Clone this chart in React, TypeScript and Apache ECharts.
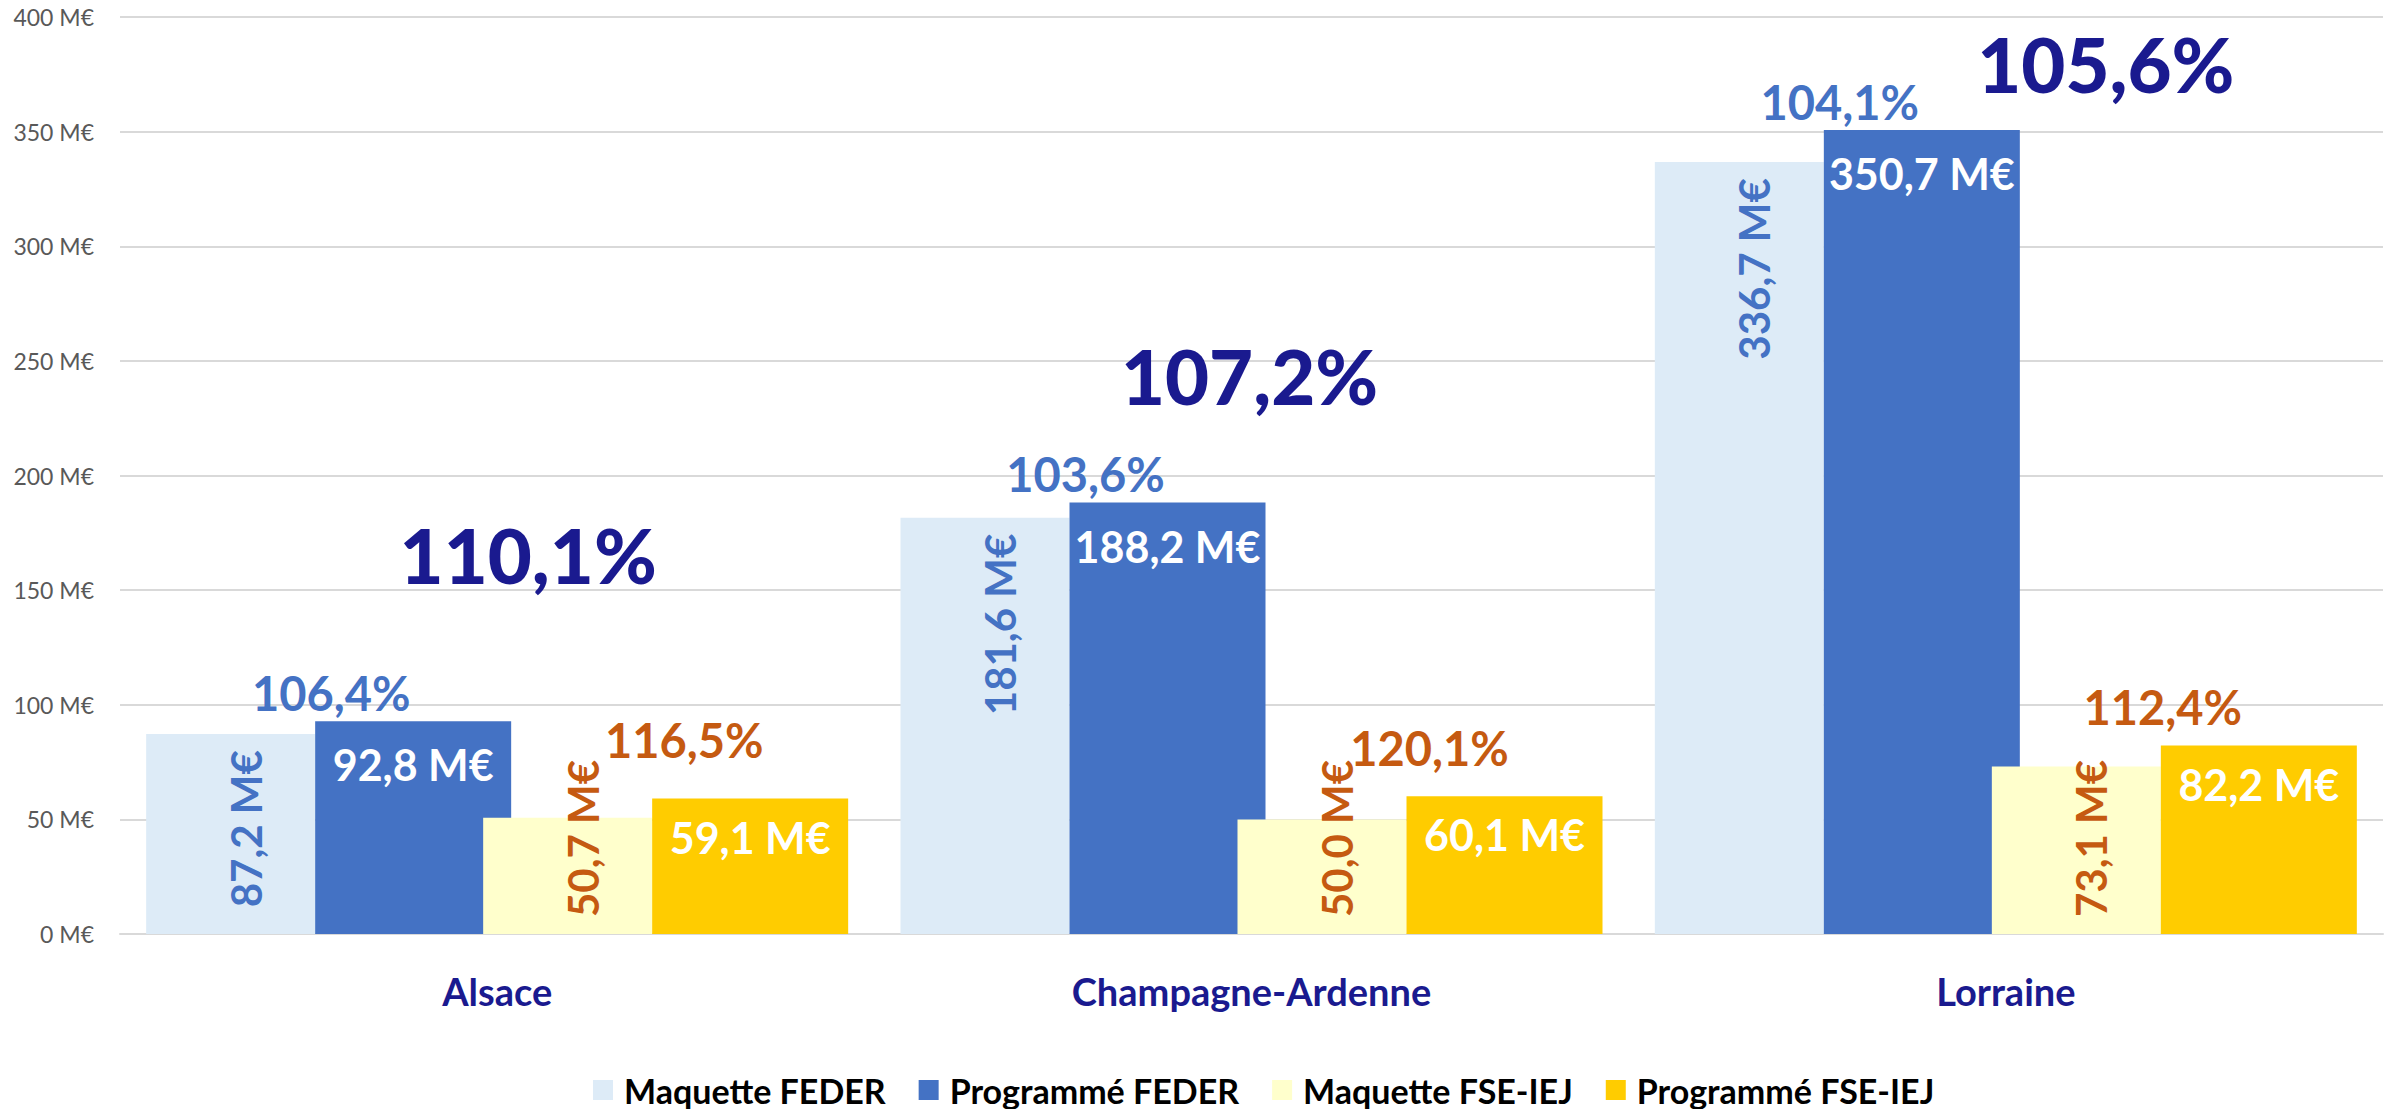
import React, { useEffect, useRef } from "react";
import * as echarts from "echarts";

const categories = ["Alsace", "Champagne-Ardenne", "Lorraine"];
const maquetteFeder = [87.2, 181.6, 336.7];
const programmeFeder = [92.8, 188.2, 350.7];
const maquetteFse = [50.7, 50.0, 73.1];
const programmeFse = [59.1, 60.1, 82.2];
const tauxFeder = ["106,4%", "103,6%", "104,1%"];
const tauxFse = ["116,5%", "120,1%", "112,4%"];
const tauxTotal = ["110,1%", "107,2%", "105,6%"];
const legendNames = ["Maquette FEDER", "Programmé FEDER", "Maquette FSE-IEJ", "Programmé FSE-IEJ"];

// annotation placement (value-axis anchor and pixel offsets)
const totalLabelAnchor = [165.6, 243.7, 379.7];
const totalLabelDx = [31, -2, 100];
const fseRateOffset = [[-66, -30], [-75, -20], [-96, -10]];

const NAVY = "#1A1A8F";
const BLUE = "#4472C4";
const LIGHTBLUE = "#DDEBF7";
const LIGHTYELLOW = "#FFFFCC";
const GOLD = "#FFCC00";
const ORANGE = "#C55A11";
const FONT = "Lato";

const fmtM = (v: number) => v.toFixed(1).replace(".", ",") + " M€";

export default function App() {
  const ref = useRef<HTMLDivElement>(null);
  useEffect(() => {
    document.body.style.margin = "0";
    const chart = echarts.init(ref.current!, null, { renderer: "svg" });
    const W_MAQ = 169;
    const W_PROG = 196;
    const W_PH = 337;
    const rotatedLabel = (color: string, pos: string, align: string, dist: number) => ({
      show: true,
      position: pos,
      distance: dist,
      rotate: 90,
      align,
      verticalAlign: "middle",
      offset: [0, 15],
      color,
      fontFamily: FONT,
      fontWeight: "bold",
      fontSize: 42,
      formatter: (p: any) => fmtM(p.value),
    });
    const whiteLabel = (dist: number) => ({
      show: true,
      position: "insideTop",
      distance: dist,
      color: "#FFFFFF",
      fontFamily: FONT,
      fontWeight: "bold",
      fontSize: 43,
      formatter: (p: any) => fmtM(p.value),
    });
    const option: any = {
      animation: false,
      textStyle: { fontFamily: FONT },
      grid: { left: 120, right: 11, top: 17, bottom: 175, containLabel: false },
      legend: {
        data: legendNames,
        left: 588,
        top: 1068,
        itemWidth: 20,
        itemHeight: 20,
        itemGap: 33,
        icon: "rect",
        textStyle: { fontFamily: FONT, fontWeight: "bold", fontSize: 34, color: "#000000", padding: [0, 0, 0, 6] },
      },
      xAxis: [
        {
          type: "category",
          data: categories,
          axisTick: { show: false },
          axisLine: { show: true, lineStyle: { color: "#D9D9D9", width: 2 } },
          axisLabel: { color: NAVY, fontFamily: FONT, fontWeight: "bold", fontSize: 38, margin: 38 },
        },
        { type: "category", data: categories, show: false },
      ],
      yAxis: {
        type: "value",
        min: 0,
        max: 400,
        interval: 50,
        axisLine: { show: false },
        axisTick: { show: false },
        splitLine: { lineStyle: { color: "#D9D9D9", width: 2 } },
        axisLabel: { color: "#595959", fontFamily: FONT, fontSize: 23, margin: 26, formatter: (v: number) => `${v} M€` },
      },
      series: [
        {
          name: legendNames[0], type: "bar", xAxisIndex: 0, barWidth: W_MAQ, barGap: "0%",
          itemStyle: { color: LIGHTBLUE }, data: maquetteFeder,
          label: rotatedLabel(BLUE, "insideTop", "right", 16),
        },
        {
          name: legendNames[1], type: "bar", xAxisIndex: 0, stack: "feder", barWidth: W_PROG, barGap: "0%",
          itemStyle: { color: BLUE }, data: programmeFeder, label: whiteLabel(22),
        },
        { name: "_phA", type: "bar", xAxisIndex: 0, barWidth: W_PH, barGap: "0%", data: ["-", "-", "-"], silent: true },
        { name: "_phB", type: "bar", xAxisIndex: 1, barWidth: W_PH, barGap: "0%", data: ["-", "-", "-"], silent: true },
        {
          name: legendNames[2], type: "bar", xAxisIndex: 1, barWidth: W_MAQ, barGap: "0%",
          itemStyle: { color: LIGHTYELLOW }, data: maquetteFse,
          label: rotatedLabel(ORANGE, "insideBottom", "left", 17),
        },
        {
          name: legendNames[3], type: "bar", xAxisIndex: 1, stack: "fse", barWidth: W_PROG, barGap: "0%",
          itemStyle: { color: GOLD }, data: programmeFse, label: whiteLabel(17),
        },
        {
          name: "_tauxFeder", type: "bar", xAxisIndex: 0, stack: "feder", barWidth: W_PROG, barGap: "0%",
          itemStyle: { color: "rgba(0,0,0,0)" }, silent: true,
          data: categories.map(() => 0),
          label: {
            show: true, position: "top", distance: 5, offset: [-82, 0],
            color: BLUE, fontFamily: FONT, fontWeight: "bold", fontSize: 47,
            formatter: (p: any) => tauxFeder[p.dataIndex],
          },
        },
        {
          name: "_tauxFse", type: "bar", xAxisIndex: 1, stack: "fse", barWidth: W_PROG, barGap: "0%",
          itemStyle: { color: "rgba(0,0,0,0)" }, silent: true,
          data: categories.map((_, i) => ({ value: 0, label: { offset: fseRateOffset[i] } })),
          label: {
            show: true, position: "top", distance: 5,
            color: ORANGE, fontFamily: FONT, fontWeight: "bold", fontSize: 47,
            formatter: (p: any) => tauxFse[p.dataIndex],
          },
        },
        {
          name: "_tauxTotal", type: "scatter", xAxisIndex: 0, symbolSize: 1,
          itemStyle: { color: "rgba(0,0,0,0)", opacity: 1 }, silent: true,
          data: categories.map((c, i) => ({ value: [i, totalLabelAnchor[i]], label: { offset: [totalLabelDx[i], 0] } })),
          label: {
            show: true, position: "inside",
            color: NAVY, fontFamily: FONT, fontWeight: 900, fontSize: 76,
            formatter: (p: any) => tauxTotal[p.dataIndex],
          },
        },
      ],
    };
    chart.setOption(option);
    return () => chart.dispose();
  }, []);
  return <div ref={ref} style={{ width: 2394, height: 1109 }} />;
}
